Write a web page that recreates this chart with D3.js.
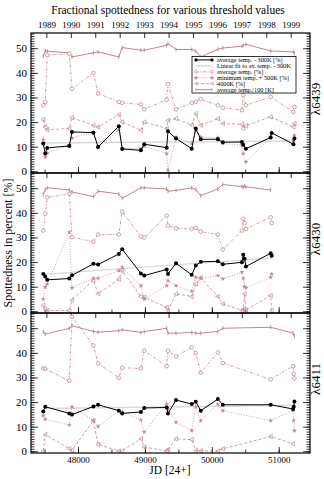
<!DOCTYPE html>
<meta charset="utf-8">
<style>
  body { margin: 0; background: #fff; }
  text { font-family: "Liberation Serif", "DejaVu Serif", serif; fill: #000; }
</style>
<body>
<svg id="chart" width="324" height="479"></svg>
<script src="https://d3js.org/d3.v7.min.js"></script>
<script>
// ---- data (JD - 2400000, spottedness in %) ----
var epochs6439 = [47480, 47510, 47540, 47870, 47910, 48230, 48300, 48610, 48660, 48940, 48990, 49325, 49345, 49465, 49700, 49760, 49835, 50090, 50165, 50450, 50470, 50510, 50880, 50895, 51220, 51235];
var avg300_6439 = [11.3, 7.2, 9.5, 10.3, 16.0, 15.7, 9.9, 18.3, 9.1, 8.5, 11.0, 9.6, 16.3, 13.3, 9.2, 17.4, 13.0, 13.0, 11.8, 11.9, 10.8, 9.2, 13.7, 15.6, 11.0, 13.3];
var avgT_6439 = [26.8, 28.2, 47.2, 47.8, 33.6, 40.0, 31.6, 28.2, 27.8, 27.2, 25.2, 29.1, 35.4, 25.2, 27.8, 28.2, 29.3, 26.8, 25.9, 24.8, 30.9, 26.8, 30.2, null, 24.1, 26.1];
var minT_6439 = [12.9, 5.8, 7.4, 10.6, 13.5, 16.0, 9.9, 16.7, 9.2, 9.2, 10.2, 7.2, 0.4, 13.9, 11.3, 16.7, 13.9, 13.7, 11.3, 10.6, 7.2, 3.8, 13.7, null, 12.6, 14.6];
var k4000_6439 = [21.0, 18.0, 16.9, 17.4, 21.8, 18.7, 18.0, 23.0, 20.0, 16.7, 20.0, 17.4, 20.7, 21.4, 18.7, 23.5, 18.7, 21.4, 19.4, 19.1, 17.4, 18.5, 22.1, null, 18.0, 19.4];
var t100_6439 = [46.7, 49.0, 48.8, 48.1, 46.5, 48.1, 48.5, 46.5, 50.3, 49.2, 49.2, 51.2, 51.9, 49.5, 49.5, 48.8, 46.5, 49.6, 50.1, 50.8, 51.2, 51.6, 48.9, null, 48.5, 48.0];
var fit6439 = [[47480, 11.5], [51235, 12.3]];

var epochs6430 = [47480, 47510, 47540, 47870, 47910, 48230, 48300, 48610, 48660, 48940, 48990, 49325, 49345, 49465, 49700, 49760, 49835, 50090, 50165, 50450, 50470, 50490, 50510, 50880, 50895];
var avg300_6430 = [15.2, 14.1, 12.8, 13.3, 14.6, 19.3, 19.0, 23.3, 25.2, 15.4, 14.5, 17.0, 15.2, 19.5, 14.8, 18.6, 20.1, 20.3, 19.1, 19.9, 23.0, 21.3, 18.2, 23.6, 22.6];
var avgT_6430 = [32.8, 39.8, 46.3, 47.7, 30.1, 28.3, 31.2, 31.2, 40.5, 30.4, 30.0, 38.9, 34.8, 33.7, 33.5, 33.9, 32.4, 31.2, 25.1, 32.8, 37.6, 35.8, 33.5, 38.2, 35.8];
var minT_6430 = [5.0, 9.8, 11.1, 32.1, 9.5, 13.4, 13.4, 16.5, 17.9, 10.4, 5.0, 10.4, 12.5, 10.4, 8.1, 13.8, 13.4, 14.5, 13.2, 15.9, 13.4, 10.0, 9.5, 13.8, 15.2];
var k4000_6430 = [2.3, 0.8, 0.3, 0.3, 4.6, 12.5, 7.1, 13.0, 16.5, 6.0, 5.7, 1.6, 0.3, 7.1, 6.0, 11.1, 13.6, 6.0, 3.0, 0.3, 0.8, 7.1, 0.5, 6.4, 0.3];
var t100_6430 = [47.4, 49.5, 50.2, 49.3, 48.5, 46.6, 48.8, 47.7, 45.9, 50.2, 50.2, 49.7, 48.8, 49.1, 50.2, 49.5, 47.0, 49.7, 51.5, 50.7, 50.5, 50.9, 50.6, 49.3, null];
var fit6430 = [[47480, 15.0], [50895, 21.7]];

var epochs6411 = [47480, 47510, 47870, 47910, 48230, 48300, 48610, 48660, 48940, 48990, 49325, 49345, 49465, 49700, 49760, 49835, 50090, 50165, 50880, 51215, 51225, 51235];
var avg300_6411 = [16.2, 18.1, 15.4, 14.9, 18.2, 18.9, 16.5, 15.4, 16.0, 17.6, 17.8, 15.4, 20.8, 19.2, 20.1, 16.5, 21.2, 18.9, 18.9, 17.2, 18.1, 20.2];
var avgT_6411 = [33.7, 33.5, 28.6, 54.7, 43.0, 35.7, 29.9, 33.9, 33.7, 40.9, 34.6, 40.9, 38.6, 42.2, 39.9, 31.9, 40.2, 35.9, 29.2, 34.6, 31.5, 29.6];
var minT_6411 = [14.5, 13.0, 10.7, 18.1, 12.5, 10.1, 16.5, 16.0, 12.7, 7.8, 19.2, 17.2, 11.8, 8.4, 18.1, 12.5, 19.2, 16.5, 12.5, 16.5, 12.5, 8.4];
var k4000_6411 = [0.1, 6.8, 1.1, 0.4, 12.5, 2.8, 0.1, 0.1, 5.1, 1.7, 0.1, 0.7, 5.1, 4.7, 0.4, 0.2, 0.1, 1.0, 6.0, 3.1, null, null];
var t100_6411 = [48.7, 47.6, 50.0, 51.0, 48.7, 48.4, 49.0, 49.4, 48.3, 48.6, 50.0, 48.0, 48.0, 48.3, 48.0, 48.0, 48.7, 50.0, 50.4, 48.0, null, 46.7];
var fit6411 = [[47480, 17.4], [51235, 18.7]];

var panelLabels = ["\u03bb6439", "\u03bb6430", "\u03bb6411"];
var years = [1989, 1990, 1991, 1992, 1993, 1994, 1995, 1996, 1997, 1998, 1999];
var jdTicks = [48000, 49000, 50000, 51000];
var yTicks = [0, 10, 20, 30, 40, 50];
var legendLabels = ["average temp. - 300K [%]", "Linear fit to av. temp. - 300K", "average temp. [%]",
                    "minimum temp. + 500K [%]", "4000K [%]", "average temp./100 [K]"];

// ---- layout ----
var left = 31, right = 310, top0 = 33, ph = 140;
var pink = "#c28a8a", pinkDark = "#b47a7a";

var svg = d3.select("#chart");

var x = d3.scaleLinear().domain([47297, 51468]).range([left, right]);
var y = d3.scaleLinear().domain([-0.7, 56.2]).range([ph, 0]);

// JD of Jan 1 for the upper axis
function yearJD(yr) { return Date.UTC(yr, 0, 1) / 86400000 + 2440587.5 - 2400000; }

var panels = [
  { ep: epochs6439, avg300: avg300_6439, avgT: avgT_6439, minT: minT_6439, k4000: k4000_6439, t100: t100_6439, fit: fit6439 },
  { ep: epochs6430, avg300: avg300_6430, avgT: avgT_6430, minT: minT_6430, k4000: k4000_6430, t100: t100_6430, fit: fit6430 },
  { ep: epochs6411, avg300: avg300_6411, avgT: avgT_6411, minT: minT_6411, k4000: k4000_6411, t100: t100_6411, fit: fit6411 }
];

function pairs(ep, vals) {
  return ep.map(function(d, i) { return [d, vals[i]]; }).filter(function(d) { return d[1] != null; });
}

var line = d3.line().x(function(d) { return x(d[0]); }).y(function(d) { return y(d[1]); });

var triLeft = "M-2.2,0L1.6,-2.2L1.6,2.2Z";
var star = d3.symbol().type(d3.symbolStar).size(8)();

panels.forEach(function(p, k) {
  var g = svg.append("g").attr("transform", "translate(0," + (top0 + k * ph) + ")");

  // ticks
  g.append("g").attr("transform", "translate(" + left + ",0)")
    .call(d3.axisLeft(y).tickValues(d3.range(0, 57)).tickSize(-3.5).tickSizeOuter(0).tickFormat(""));
  g.append("g").attr("transform", "translate(" + left + ",0)").attr("class", "ylab")
    .call(d3.axisLeft(y).tickValues(yTicks).tickSize(-7).tickSizeOuter(0).tickPadding(4).tickFormat(d3.format("d")));
  g.append("g").attr("transform", "translate(" + right + ",0)")
    .call(d3.axisRight(y).tickValues(d3.range(0, 57)).tickSize(-3.5).tickSizeOuter(0).tickFormat(""));
  g.append("g").attr("transform", "translate(" + right + ",0)")
    .call(d3.axisRight(y).tickValues(yTicks).tickSize(-7).tickSizeOuter(0).tickFormat(""));
  g.append("g").attr("transform", "translate(0," + ph + ")")
    .call(d3.axisBottom(x).tickValues(d3.range(47500, 51500, 500)).tickSize(-3.5).tickSizeOuter(0).tickFormat(""));
  g.append("g").attr("transform", "translate(0," + ph + ")").attr("class", "xlab")
    .call(d3.axisBottom(x).tickValues(jdTicks).tickSize(-6).tickSizeOuter(0).tickPadding(4)
      .tickFormat(k === 2 ? d3.format("d") : function() { return ""; }));
  g.append("g").attr("class", "yr")
    .call(d3.axisTop(x).tickValues(years.map(yearJD)).tickSize(-5).tickSizeOuter(0).tickPadding(5)
      .tickFormat(k === 0 ? function(d, i) { return years[i]; } : function() { return ""; }));

  g.selectAll(".domain").remove();
  g.selectAll(".tick line").attr("stroke", "#000").attr("stroke-width", 0.8);
  g.selectAll(".ylab text").attr("font-size", 11).attr("font-family", "Liberation Serif");
  g.selectAll(".xlab text").attr("font-size", 9).attr("font-family", "Liberation Serif");
  g.selectAll(".yr text").attr("font-size", 9).attr("font-family", "Liberation Serif");

  var clipId = "clip" + k;
  g.append("clipPath").attr("id", clipId).append("rect")
    .attr("x", left).attr("y", 0).attr("width", right - left).attr("height", ph);
  var plot = g.append("g").attr("clip-path", "url(#" + clipId + ")");

  // linear fit
  plot.append("path").datum(p.fit).attr("d", line)
    .attr("fill", "none").attr("stroke", "#d9d9d9").attr("stroke-width", 1.4);

  // average temp./100
  var t100 = pairs(p.ep, p.t100);
  plot.append("path").datum(t100).attr("d", line)
    .attr("fill", "none").attr("stroke", pinkDark).attr("stroke-width", 0.9);
  plot.selectAll(".t100").data(t100).enter().append("line")
    .attr("x1", function(d) { return x(d[0]); }).attr("x2", function(d) { return x(d[0]); })
    .attr("y1", function(d) { return y(d[1]) - 2; }).attr("y2", function(d) { return y(d[1]) + 2; })
    .attr("stroke", pinkDark).attr("stroke-width", 0.8);

  // average temp.
  var avgT = pairs(p.ep, p.avgT);
  plot.append("path").datum(avgT).attr("d", line)
    .attr("fill", "none").attr("stroke", pink).attr("stroke-width", 0.8).attr("stroke-dasharray", "3,1.5,1,1.5");
  plot.selectAll(".avgT").data(avgT).enter().append("circle")
    .attr("cx", function(d) { return x(d[0]); }).attr("cy", function(d) { return y(d[1]); })
    .attr("r", 1.8).attr("fill", "#fff").attr("stroke", pink).attr("stroke-width", 0.8);

  // minimum temp. + 500K
  var minT = pairs(p.ep, p.minT);
  plot.append("path").datum(minT).attr("d", line)
    .attr("fill", "none").attr("stroke", pink).attr("stroke-width", 0.8).attr("stroke-dasharray", "1,1.6");
  plot.selectAll(".minT").data(minT).enter().append("path")
    .attr("d", star)
    .attr("transform", function(d) { return "translate(" + x(d[0]) + "," + y(d[1]) + ")"; })
    .attr("fill", pink);

  // 4000K
  var k4 = pairs(p.ep, p.k4000);
  plot.append("path").datum(k4).attr("d", line)
    .attr("fill", "none").attr("stroke", pink).attr("stroke-width", 0.8).attr("stroke-dasharray", "3,2");
  plot.selectAll(".k4").data(k4).enter().append("path")
    .attr("d", triLeft)
    .attr("transform", function(d) { return "translate(" + x(d[0]) + "," + y(d[1]) + ")"; })
    .attr("fill", "none").attr("stroke", pink).attr("stroke-width", 0.7);

  // average temp. - 300K
  var a3 = pairs(p.ep, p.avg300);
  plot.append("path").datum(a3).attr("d", line)
    .attr("fill", "none").attr("stroke", "#000").attr("stroke-width", 1);
  plot.selectAll(".a3").data(a3).enter().append("circle")
    .attr("cx", function(d) { return x(d[0]); }).attr("cy", function(d) { return y(d[1]); })
    .attr("r", 2).attr("fill", "#000");

  // frame
  g.append("rect").attr("x", left).attr("y", 0).attr("width", right - left).attr("height", ph)
    .attr("fill", "none").attr("stroke", "#000").attr("stroke-width", 1.2);

  // panel label on the right
  g.append("text")
    .attr("transform", "translate(320," + (ph / 2 - 4) + ") rotate(-90)")
    .attr("text-anchor", "middle").attr("font-size", 13)
    .text(panelLabels[k]);
});

// legend in the upper panel
var lg = svg.append("g").attr("transform", "translate(192,56.5)");
lg.append("rect").attr("width", 104).attr("height", 36.5).attr("fill", "#fff").attr("stroke", "#000").attr("stroke-width", 0.8);
var legendStyle = [
  { c: "#000", dash: null, w: 1 },
  { c: "#d9d9d9", dash: null, w: 1.4 },
  { c: pink, dash: "3,1.5,1,1.5", w: 0.8 },
  { c: pink, dash: "1,1.6", w: 0.8 },
  { c: pink, dash: "3,2", w: 0.8 },
  { c: pinkDark, dash: null, w: 0.9 }
];
legendLabels.forEach(function(lbl, i) {
  var cy = 3.4 + i * 5.95, s = legendStyle[i];
  var row = lg.append("g").attr("transform", "translate(0," + cy + ")");
  row.append("line").attr("x1", 4).attr("x2", 20).attr("stroke", s.c).attr("stroke-width", s.w)
    .attr("stroke-dasharray", s.dash);
  [4, 20].forEach(function(mx) {
    if (i === 0) row.append("circle").attr("cx", mx).attr("r", 1.6).attr("fill", "#000");
    if (i === 2) row.append("circle").attr("cx", mx).attr("r", 1.4).attr("fill", "#fff").attr("stroke", pink).attr("stroke-width", 0.7);
    if (i === 3) row.append("path").attr("d", star).attr("transform", "translate(" + mx + ",0)").attr("fill", pink);
    if (i === 4) row.append("path").attr("d", triLeft).attr("transform", "translate(" + mx + ",0) scale(0.8)").attr("fill", "none").attr("stroke", pink).attr("stroke-width", 0.7);
    if (i === 5) row.append("line").attr("x1", mx).attr("x2", mx).attr("y1", -1.8).attr("y2", 1.8).attr("stroke", pinkDark).attr("stroke-width", 0.7);
  });
  row.append("text").attr("x", 25).attr("dy", "0.35em").attr("font-size", 6.3).text(lbl);
});

// titles
svg.append("text").attr("x", 168).attr("y", 14).attr("text-anchor", "middle").attr("font-size", 11.5)
  .text("Fractional spottedness for various threshold values");
svg.append("text").attr("x", 170).attr("y", 474).attr("text-anchor", "middle").attr("font-size", 11.5)
  .text("JD [24+]");
svg.append("text").attr("transform", "translate(12,243) rotate(-90)").attr("text-anchor", "middle").attr("font-size", 12)
  .text("Spottedness in percent [%]");
</script>
</body>
